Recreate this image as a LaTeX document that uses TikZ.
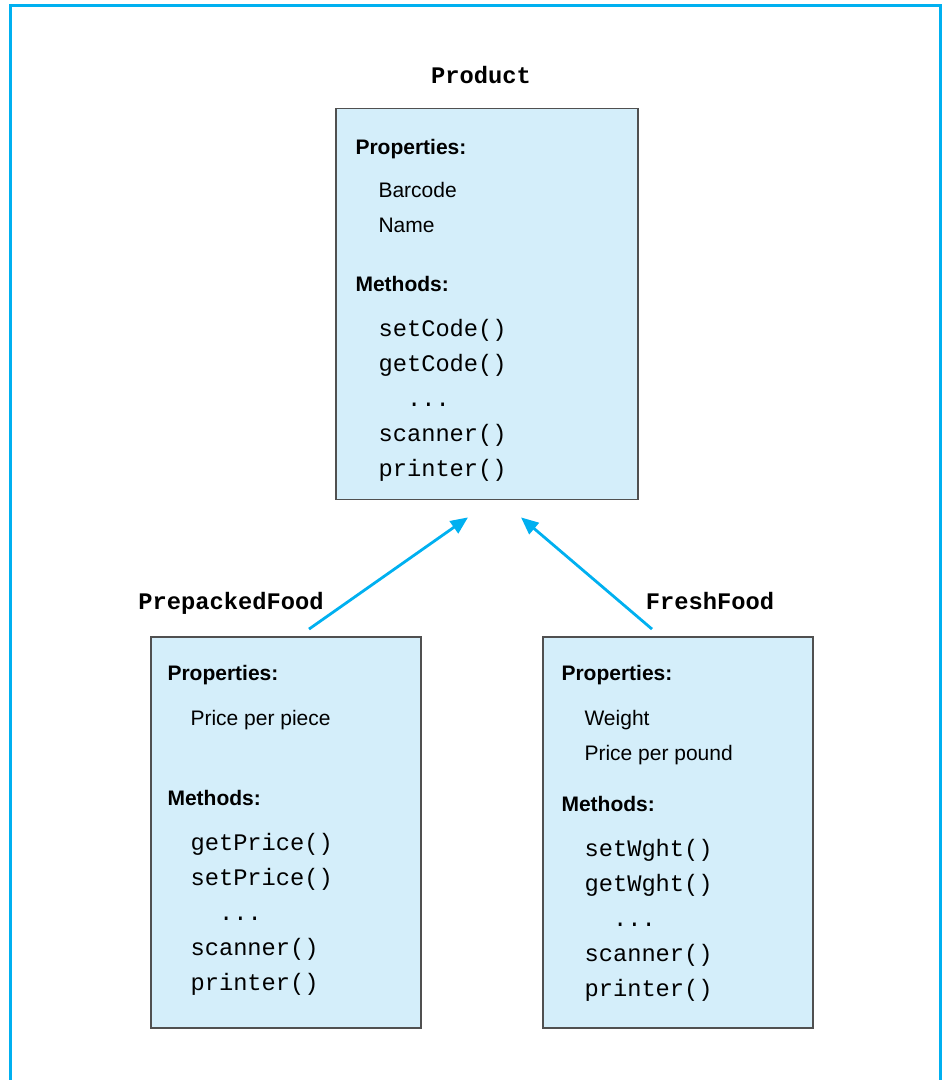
\documentclass[tikz,border=0pt]{standalone}
\usepackage{fontspec}
\setmainfont{Liberation Sans}
\setsansfont{Liberation Sans}
\setmonofont{Liberation Mono}
\usetikzlibrary{arrows.meta,calc}

\definecolor{framecyan}{RGB}{0,176,240}
\definecolor{boxfill}{RGB}{212,238,250}
\definecolor{boxline}{RGB}{80,80,80}
\newcommand{\mth}[1]{{\fontsize{17.8pt}{26.25pt}\selectfont\ttfamily #1}}
\newcommand{\ind}{\hspace*{17.25pt}}

\begin{document}
\begin{tikzpicture}[
    x=0.75pt, y=0.75pt,
    cls/.style={draw=boxline, line width=1.1pt, fill=boxfill, inner sep=0pt, minimum height=293.5pt},
    members/.style={anchor=north west, align=left, inner sep=0pt, font=\fontsize{15.75pt}{26.25pt}\selectfont},
    clsname/.style={anchor=base, inner sep=0pt, font=\fontsize{17.8pt}{20pt}\selectfont\ttfamily\bfseries},
    inherit/.style={draw=framecyan, line width=2.1pt, -{Triangle[length=13pt,width=11pt]}},
  ]
    \useasboundingbox (0,0) rectangle (944,1080);
    \draw[framecyan, line width=2.25pt] (10.5,-20) -- (10.5,1074) -- (940,1074) -- (940,-20);

    % classes
    \node[cls, minimum width=226.5pt] (prod) at (487,776) {};
    \node[cls, minimum width=202.5pt] (pre) at (286,247.5) {};
    \node[cls, minimum width=202.5pt] (fresh) at (678,247.5) {};

    \node[clsname] (prodname) at (481,996) {Product};
    \node[clsname] (prename) at (231,470) {PrepackedFood};
    \node[clsname] (freshname) at (710,470) {FreshFood};

    \node[members] (prodtxt) at ($(prod.north west)+(20,-31)$) {%
      \textbf{Properties:}\\[6pt]
      \ind Barcode\\
      \ind Name\\[18pt]
      \textbf{Methods:}\\[7.5pt]
      \ind\mth{setCode()}\\
      \ind\mth{getCode()}\\
      \ind\mth{\ \ ...}\\
      \ind\mth{scanner()}\\
      \ind\mth{printer()}};

    \node[members] (pretxt) at ($(pre.north west)+(17,-29)$) {%
      \textbf{Properties:}\\[7.5pt]
      \ind Price per piece\\[33.75pt]
      \textbf{Methods:}\\[7.5pt]
      \ind\mth{getPrice()}\\
      \ind\mth{setPrice()}\\
      \ind\mth{\ \ ...}\\
      \ind\mth{scanner()}\\
      \ind\mth{printer()}};

    \node[members] (freshtxt) at ($(fresh.north west)+(19,-29)$) {%
      \textbf{Properties:}\\[7.5pt]
      \ind Weight\\
      \ind Price per pound\\[12pt]
      \textbf{Methods:}\\[7.5pt]
      \ind\mth{setWght()}\\
      \ind\mth{getWght()}\\
      \ind\mth{\ \ ...}\\
      \ind\mth{scanner()}\\
      \ind\mth{printer()}};

    % inheritance
    \draw[inherit] ($(pre.north)+(23,7)$) -- ($(prod.south)+(-19,-17)$);
    \draw[inherit] ($(fresh.north)+(-26,7)$) -- ($(prod.south)+(34,-17)$);
\end{tikzpicture}
\end{document}
